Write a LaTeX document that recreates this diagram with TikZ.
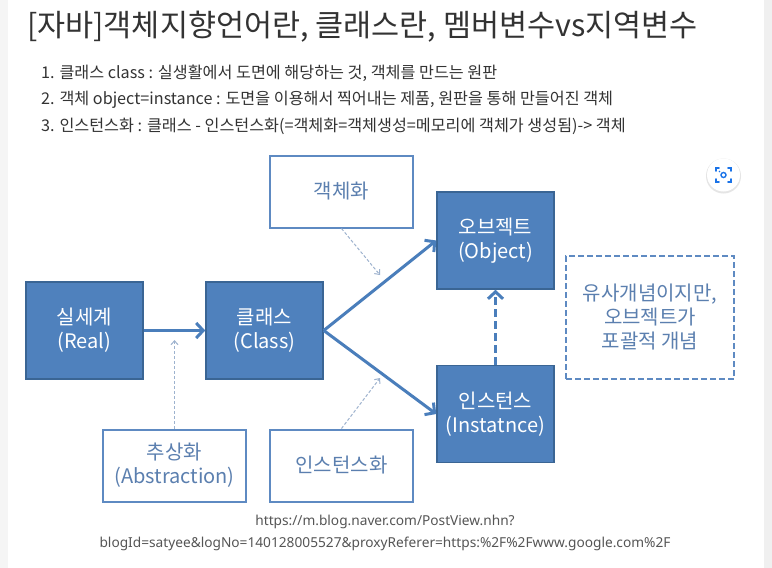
\documentclass[tikz,border=0pt]{standalone}
\usepackage{fontspec}
\setmainfont{Noto Sans CJK KR}
\newfontfamily\urlfont{Noto Sans}
\usetikzlibrary{arrows.meta}

\definecolor{boxfill}{HTML}{4F81BD}
\definecolor{boxline}{HTML}{3A6594}
\definecolor{arrowblue}{HTML}{4A7EBB}
\definecolor{faintline}{HTML}{9DB2CE}
\definecolor{labeltext}{HTML}{5B7FAF}
\definecolor{whiteline}{HTML}{5E8AC2}
\definecolor{pagetext}{HTML}{333333}
\definecolor{urltext}{HTML}{555555}
\definecolor{iconblue}{HTML}{1A73E8}

\begin{document}
\begin{tikzpicture}[x=1pt, y=-1pt,
	bluebox/.style={draw=boxline, line width=1.5pt, fill=boxfill, text=white, minimum width=117pt, minimum height=97pt, inner sep=0pt, align=center, font=\fontsize{20}{24}\selectfont},
	whitebox/.style={draw=whiteline, line width=2pt, fill=white, text=labeltext, minimum width=143pt, minimum height=72pt, inner sep=0pt, align=center, font=\fontsize{20}{24}\selectfont},
	notebox/.style={draw=whiteline, line width=2pt, dash pattern=on 6pt off 3pt, text=labeltext, minimum width=168pt, minimum height=123pt, inner sep=0pt, align=center, font=\fontsize{20}{24}\selectfont},
	mainarrow/.style={draw=arrowblue, line width=3pt, -{Straight Barb[length=7pt, width=15pt]}},
	faintarrow/.style={draw=faintline, line width=1pt, dash pattern=on 3pt off 2pt, -{Straight Barb[length=4pt, width=7pt]}},
	pageline/.style={anchor=base west, text=pagetext, inner sep=0pt, font=\fontsize{16.2}{18}\selectfont},
	urlline/.style={anchor=base, text=urltext, inner sep=0pt, font=\urlfont\fontsize{13.7}{16}\selectfont}
	]
	\useasboundingbox (0,0) rectangle (772,568);
	\fill[white] (0,0) rectangle (772,568);
	\fill[black!4] (0,0) rectangle (8,568); \fill[black!6] (764,0) rectangle (772,568);

	\node[anchor=base west, text=pagetext, inner sep=0pt, font=\fontsize{30.5}{34}\selectfont] (title) at (27,36) {[자바]객체지향언어란, 클래스란, 멤버변수vs지역변수};
	\node[pageline] (item1) at (41,78) {1. 클래스 class : 실생활에서 도면에 해당하는 것, 객체를 만드는 원판};
	\node[pageline] (item2) at (41,104.5) {2. 객체 object=instance : 도면을 이용해서 찍어내는 제품, 원판을 통해 만들어진 객체};
	\node[pageline] (item3) at (41,131) {3. 인스턴스화 : 클래스 - 인스턴스화(=객체화=객체생성=메모리에 객체가 생성됨)-> 객체};

	\node[bluebox] (real) at (84.5,330.5) {실세계\\(Real)};
	\node[bluebox] (class) at (264.5,330.5) {클래스\\(Class)};
	\node[bluebox] (object) at (495.5,240.5) {오브젝트\\(Object)};
	\node[bluebox] (instance) at (495.5,414) {인스턴스\\(Instatnce)};
	\node[whitebox] (objectify) at (341.5,191.5) {객체화};
	\node[whitebox] (abstract) at (174.5,465.5) {추상화\\(Abstraction)};
	\node[whitebox] (instantiate) at (341.5,465.5) {인스턴스화};
	\node[notebox] (note) at (650,317.5) {유사개념이지만,\\오브젝트가\\포괄적 개념};

	\draw[mainarrow] (real.east) -- (class.west);
	\draw[mainarrow] (class.east) -- (object.west);
	\draw[mainarrow] (class.east) -- (instance.west);
	\draw[mainarrow, dash pattern=on 8pt off 4pt] (instance.north) -- (object.south);

	\coordinate (objectifytip) at (380,275); \coordinate (abstracttip) at (174.5,340); \coordinate (instantiatetip) at (380,378);
	\draw[faintarrow] (objectify.south) -- (objectifytip);
	\draw[faintarrow] (abstract.north) -- (abstracttip);
	\draw[faintarrow] (instantiate.north) -- (instantiatetip);

	\fill[black!10] (723.5,176) circle (17.5);
	\node[circle, fill=white, minimum size=33pt, inner sep=0pt] (lens) at (723.5,175) {};
	\draw[iconblue, line width=1.6pt, line cap=round] (716,171) -- (716,168) -- (719,168) (728,168) -- (731,168) -- (731,171) (731,179) -- (731,182) -- (728,182) (719,182) -- (716,182) -- (716,179);
	\draw[iconblue, line width=1.4pt] (lens.center) circle (2.5); \fill[iconblue] (719.5,171.5) circle (0.9);

	\node[urlline] (url1) at (385,525) {https://m.blog.naver.com/PostView.nhn?};
	\node[urlline] (url2) at (385,547) {blogId=satyee\&logNo=140128005527\&proxyReferer=https:\%2F\%2Fwww.google.com\%2F};
\end{tikzpicture}
\end{document}
